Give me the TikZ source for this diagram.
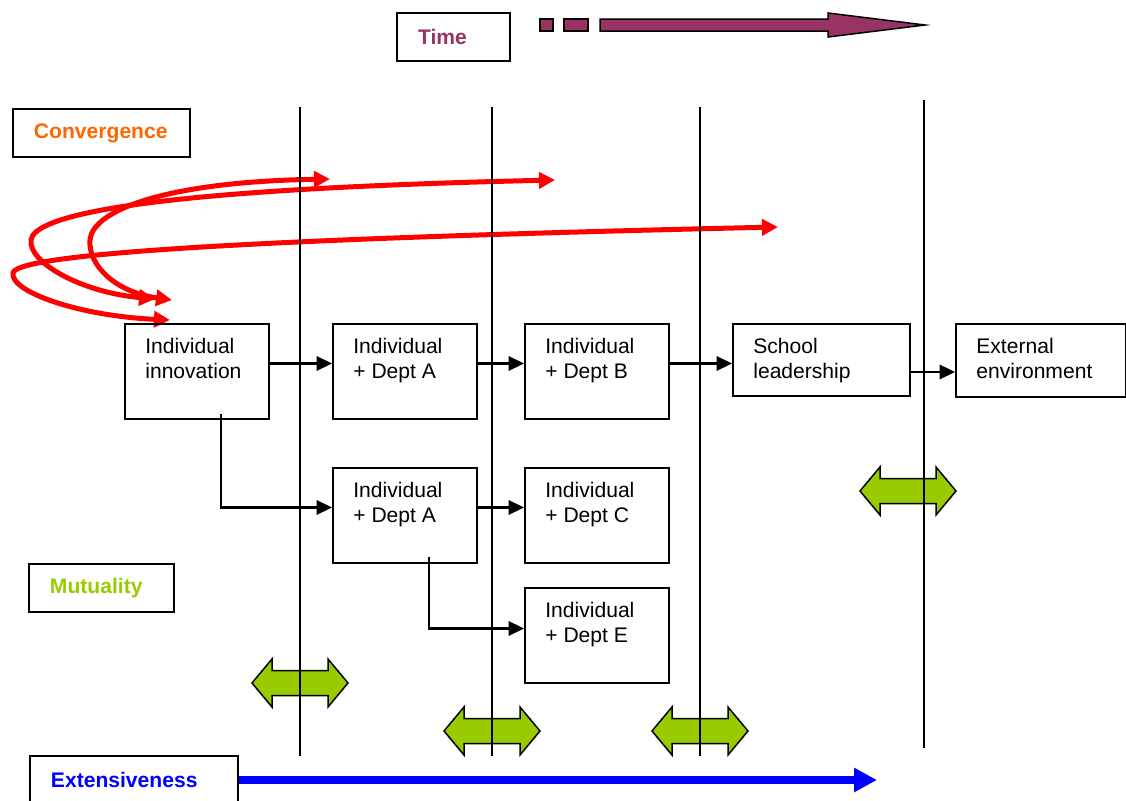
\documentclass[tikz,border=0pt]{standalone}
\usepackage{fontspec}
\setmainfont{Liberation Sans}
\usetikzlibrary{arrows.meta,positioning}

\definecolor{timecol}{HTML}{993366}
\definecolor{convcol}{HTML}{FF6600}
\definecolor{mutcol}{HTML}{99CC00}
\definecolor{extcol}{HTML}{0000FF}

\tikzset{
    stagebox/.style={draw, line width=0.04cm, inner sep=0pt, anchor=north west,
        minimum width=2.88cm, minimum height=1.9cm},
    stagetext/.style={anchor=north west, inner sep=0pt, align=left,
        font=\fontsize{12}{14.2}\selectfont},
    dimbox/.style={draw, line width=0.04cm, anchor=north west, inner xsep=0.42cm,
        inner ysep=0pt, minimum height=0.96cm, align=left,
        font=\bfseries\fontsize{12}{14}\selectfont},
    flow/.style={line width=0.045cm, -{Triangle[length=0.31cm,width=0.29cm]}},
    phase/.style={line width=0.03cm},
    conv/.style={red, line width=0.1cm,
        {Triangle[length=0.32cm,width=0.32cm]}-{Triangle[length=0.32cm,width=0.32cm]}},
    mutarrow/.style={fill=mutcol, draw=black, line width=0.03cm},
    timearrow/.style={fill=timecol, draw=black, line width=0.03cm},
    extline/.style={extcol, line width=0.15cm, -{Triangle[length=0.46cm,width=0.46cm]}}
}

\begin{document}
\begin{tikzpicture}[x=0.02cm, y=-0.02cm]
    \useasboundingbox (0,0) rectangle (1126,801);

    % convergence loops
    \draw[conv] (170,320) .. controls (80,316) and (10,292) .. (13,273)
        .. controls (16,256) and (200,240) .. (778,227);
    \draw[conv] (155,299) .. controls (80,292) and (28,262) .. (31,240)
        .. controls (34,218) and (120,190) .. (555,180);
    \draw[conv] (172,300) .. controls (115,292) and (88,265) .. (90,240)
        .. controls (92,212) and (160,182) .. (330,179);

    % mutuality arrows
    \foreach \cx/\cy in {300/683, 492/731, 700/731, 908/491}
        \draw[mutarrow] (\cx-48,\cy) -- (\cx-28,\cy-24) -- (\cx-28,\cy-12.5)
            -- (\cx+28,\cy-12.5) -- (\cx+28,\cy-24) -- (\cx+48,\cy)
            -- (\cx+28,\cy+24) -- (\cx+28,\cy+12.5) -- (\cx-28,\cy+12.5)
            -- (\cx-28,\cy+24) -- cycle;

    % phase lines
    \foreach \x/\t/\b in {300/107/756, 492/107/756, 700/107/756, 924/100/748}
        \draw[phase] (\x,\t) -- (\x,\b);

    % time
    \node[dimbox, text width=1.42cm, text=timecol] (timeB) at (396,12) {Time};
    \draw[timearrow] (540,19) rectangle (553,31);
    \draw[timearrow] (564,19) rectangle (588,31);
    \draw[timearrow] (600,19) -- (828,19) -- (828,13) -- (925,25) -- (828,37)
        -- (828,31) -- (600,31) -- cycle;

    % dimensions
    \node[dimbox, text width=2.70cm, text=convcol] (convB) at (12,108) {Convergence};
    \node[dimbox, text width=2.06cm, text=mutcol] (mutB) at (28,563) {Mutuality};
    \node[dimbox, text width=3.32cm, text=extcol] (extB) at (29,755) {Extensiveness};
    \coordinate (extEnd) at (877,778);
    \draw[extline] (extB.east) -- (extB.east -| extEnd);

    % stages
    \node[stagebox] (inno) at (124,323) {};
    \node[stagebox] (dA1) at (332,323) {};
    \node[stagebox] (dB) at (524,323) {};
    \node[stagebox, minimum width=3.54cm, minimum height=1.44cm] (school) at (732,323) {};
    \node[stagebox, minimum width=3.40cm, minimum height=1.46cm] (ext) at (955,323) {};
    \node[stagebox] (dA2) at (332,467) {};
    \node[stagebox] (dC) at (524,467) {};
    \node[stagebox] (dE) at (524,587) {};

    \node[stagetext] (innoT) at ([shift={(21,14.5)}]inno.north west) {Individual\\innovation};
    \node[stagetext] (dA1T) at ([shift={(21,14.5)}]dA1.north west) {Individual\\+ Dept A};
    \node[stagetext] (dBT) at ([shift={(21,14.5)}]dB.north west) {Individual\\+ Dept B};
    \node[stagetext] (schoolT) at ([shift={(21,14.5)}]school.north west) {School\\leadership};
    \node[stagetext] (extT) at ([shift={(21,14.5)}]ext.north west) {External\\environment};
    \node[stagetext] (dA2T) at ([shift={(21,14.5)}]dA2.north west) {Individual\\+ Dept A};
    \node[stagetext] (dCT) at ([shift={(21,14.5)}]dC.north west) {Individual\\+ Dept C};
    \node[stagetext] (dET) at ([shift={(21,14.5)}]dE.north west) {Individual\\+ Dept E};

    % flows
    \draw[flow] ([yshift=0.16cm]inno.east) -- ([yshift=0.16cm]dA1.west);
    \draw[flow] ([yshift=0.16cm]dA1.east) -- ([yshift=0.16cm]dB.west);
    \draw[flow] ([yshift=0.16cm]dB.east) -- ([yshift=0.16cm]dB.east -| school.west);
    \draw[flow] ([yshift=-0.24cm]school.east) -- ([yshift=-0.24cm]school.east -| ext.west);
    \draw[flow] ([xshift=0.48cm,yshift=0.12cm]inno.south) |- ([yshift=0.16cm]dA2.west);
    \draw[flow] ([yshift=0.16cm]dA2.east) -- ([yshift=0.16cm]dC.west);
    \draw[flow] ([xshift=0.48cm,yshift=0.14cm]dA2.south) |- ([yshift=0.14cm]dE.west);
\end{tikzpicture}
\end{document}
